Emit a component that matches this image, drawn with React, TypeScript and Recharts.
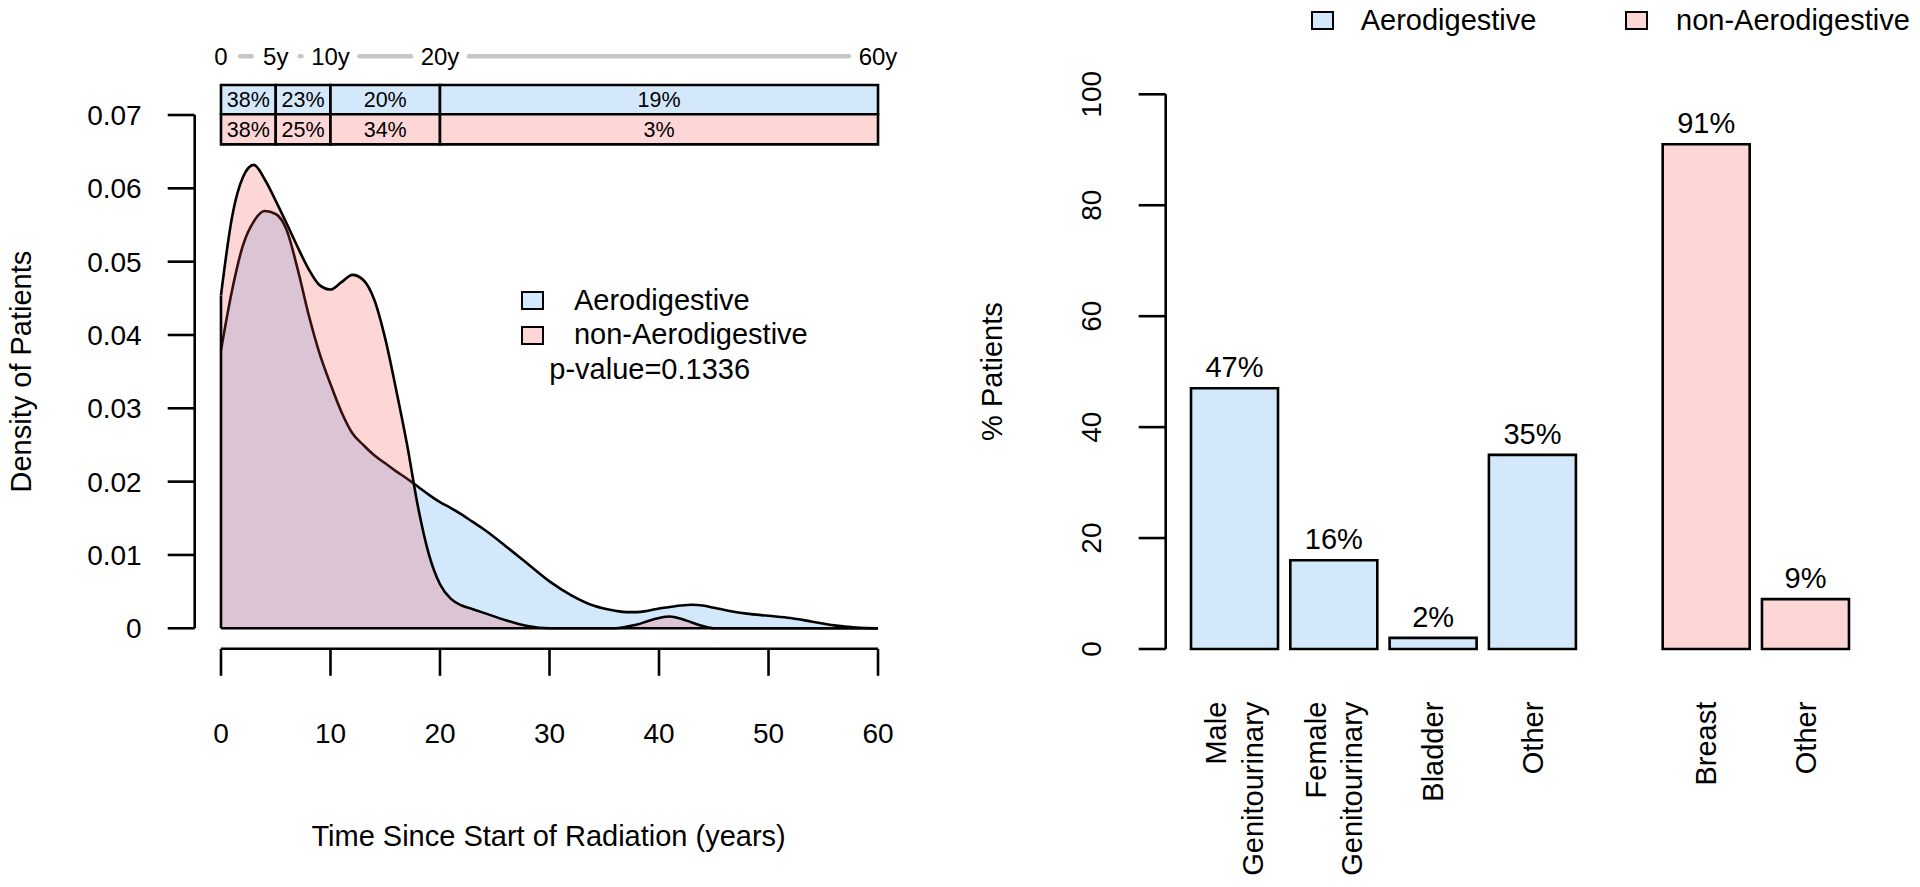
import React from "react";
import {
  Area,
  Bar,
  Cell,
  ComposedChart,
  LabelList,
  Legend,
  ReferenceArea,
  ReferenceLine,
  Scatter,
  XAxis,
  YAxis,
} from "recharts";

const FONT = '"Liberation Sans", Arial, Helvetica, sans-serif';
const BLUE = "#d4e8fc";
const PINK = "#fdd6d6";
const PINK_TINT = "#f64545"; // drawn at 22% over the blue density
const INK = "#000";
const LW = 2.6;

const groupNames = ["Aerodigestive", "non-Aerodigestive"];
const groupColors = [BLUE, PINK];

// left panel: density of time since start of radiation
const densityYears = [
  0, 1, 2, 3, 4, 5, 6, 7, 8, 9, 10, 11, 12, 13, 14, 15, 16, 17, 18, 19, 20, 21, 22, 23, 24,
  26, 28, 30, 32, 34, 36, 37, 38, 39, 40, 41, 42, 43, 44, 45, 46, 48, 50, 52, 54, 56, 58, 60,
];
const aeroDensity = [
  0.0379, 0.046, 0.0522, 0.0555, 0.0569, 0.0565, 0.0543, 0.049, 0.0428, 0.0375, 0.0333, 0.0295,
  0.0266, 0.025, 0.0236, 0.0225, 0.0214, 0.0204, 0.0193, 0.0182, 0.0172, 0.0164, 0.0155, 0.0145,
  0.0135, 0.0112, 0.0088, 0.0064, 0.0045, 0.0031, 0.0024, 0.0022, 0.0022, 0.0024, 0.0027, 0.0029,
  0.0031, 0.0032, 0.0031, 0.0028, 0.0025, 0.002, 0.0017, 0.0014, 0.0009, 0.0004, 0.0001, 0,
];
const nonAeroDensity = [
  0.0454, 0.056, 0.0615, 0.0632, 0.0612, 0.0583, 0.0552, 0.052, 0.049, 0.0468, 0.0462, 0.0472,
  0.0482, 0.0475, 0.0448, 0.0395, 0.0325, 0.025, 0.0165, 0.01, 0.006, 0.004, 0.0031, 0.0026,
  0.0021, 0.0011, 0.0003, 0, 0, 0, 0, 0.0002, 0.0005, 0.001, 0.0014, 0.0016, 0.0013, 0.0008,
  0.0003, 0, 0, 0, 0, 0, 0, 0, 0, 0,
];
const densityTicksX = [0, 10, 20, 30, 40, 50, 60];
const densityTicksY = [0, 0.01, 0.02, 0.03, 0.04, 0.05, 0.06, 0.07];

const periodEdges = [0, 5, 10, 20, 60];
const periodLabels = ["0", "5y", "10y", "20y", "60y"];
const aeroPeriodShare = ["38%", "23%", "20%", "19%"];
const nonAeroPeriodShare = ["38%", "25%", "34%", "3%"];
const pValue = "0.1336";

// right panel: site of second cancer
const aeroSites = ["Male\nGenitourinary", "Female\nGenitourinary", "Bladder", "Other"];
const aeroPercent = [47, 16, 2, 35];
const nonAeroSites = ["Breast", "Other"];
const nonAeroPercent = [91, 9];
const percentTicks = [0, 20, 40, 60, 80, 100];

// layout in data units
const X_PAD = 2.4;
const Y_PAD = 0.0028;
const Y_TOP = 0.08;
const TABLE_ROWS = [0.0741, 0.0701, 0.066];
const PERIOD_LABEL_Y = 0.078;
const GROUP_GAP = 0.75;

const densityRows = densityYears.map((x, i) => ({
  x,
  aero: aeroDensity[i],
  nonAero: nonAeroDensity[i],
}));
const periodMarks = periodEdges.map((x, i) => ({ x, y: PERIOD_LABEL_Y, label: periodLabels[i] }));
const labelPad = (s: string) => 1.3 + 0.45 * s.length;

const siteRows = [
  ...aeroSites.map((name, i) => ({ pos: i, name, pct: aeroPercent[i], group: 0 })),
  ...nonAeroSites.map((name, i) => ({
    pos: aeroSites.length + GROUP_GAP + i,
    name,
    pct: nonAeroPercent[i],
    group: 1,
  })),
];

const tickFont = { fill: INK, fontSize: 28, fontFamily: FONT };
const inkLine = { stroke: INK, strokeWidth: LW };

// axis title; "rot" rather than "angle" since Label passes its own angle
function Title({ tx, ty, rot = 0, text }: any) {
  return (
    <text
      x={tx}
      y={ty}
      transform={rot ? `rotate(${rot} ${tx} ${ty})` : undefined}
      textAnchor="middle"
      dominantBaseline="central"
      fontSize={29}
      fontFamily={FONT}
      fill={INK}
    >
      {text}
    </text>
  );
}

function PeriodLabel({ cx, cy, payload }: any) {
  return (
    <text x={cx} y={cy} textAnchor="middle" dominantBaseline="central" fontSize={24} fill={INK} fontFamily={FONT}>
      {payload.label}
    </text>
  );
}

function LegendBox({ left, top, color }: any) {
  return (
    <div
      style={{
        position: "absolute",
        left,
        top,
        width: 23,
        height: 19,
        background: color,
        border: `${LW}px solid ${INK}`,
        boxSizing: "border-box",
      }}
    />
  );
}

function LegendText({ left, top, children }: any) {
  return (
    <div
      style={{
        position: "absolute",
        left,
        top,
        fontSize: 29,
        lineHeight: "29px",
        whiteSpace: "nowrap",
        color: INK,
        fontFamily: FONT,
      }}
    >
      {children}
    </div>
  );
}

function DensityLegend() {
  return (
    <div style={{ position: "relative", width: 320, height: 120 }}>
      {groupNames.map((name, i) => (
        <React.Fragment key={name}>
          <LegendBox left={0} top={10.7 + i * 35.3} color={groupColors[i]} />
          <LegendText left={53.3} top={5.5 + i * 34.3}>
            {name}
          </LegendText>
        </React.Fragment>
      ))}
      <LegendText left={28.6} top={74.5}>{`p-value=${pValue}`}</LegendText>
    </div>
  );
}

function SiteLegend() {
  return (
    <div style={{ position: "relative", width: 620, height: 40 }}>
      {groupNames.map((name, i) => (
        <React.Fragment key={name}>
          <LegendBox left={10.7 + i * 314.3} top={10.7} color={groupColors[i]} />
          <LegendText left={60.7 + i * 315.3} top={5.5}>
            {name}
          </LegendText>
        </React.Fragment>
      ))}
    </div>
  );
}

function PercentTick({ x, y, payload }: any) {
  return (
    <text
      x={x}
      y={y}
      transform={`rotate(-90 ${x} ${y})`}
      textAnchor="middle"
      dominantBaseline="central"
      {...tickFont}
    >
      {payload.value}
    </text>
  );
}

function SiteTick({ x, y, payload }: any) {
  const row = siteRows.find((r) => r.pos === payload.value);
  if (!row) return null;
  const lines = row.name.split("\n");
  return (
    <g>
      {lines.map((line, i) => {
        const lx = x + (i - (lines.length - 1) / 2) * 36.7;
        return (
          <text
            key={line}
            x={lx}
            y={y}
            transform={`rotate(-90 ${lx} ${y})`}
            textAnchor="end"
            dominantBaseline="central"
            fontSize={29}
            fontFamily={FONT}
            fill={INK}
          >
            {line}
          </text>
        );
      })}
    </g>
  );
}

function DensityPanel() {
  const shareRows = [aeroPeriodShare, nonAeroPeriodShare];
  return (
    <ComposedChart
      width={960}
      height={887}
      data={densityRows}
      margin={{ top: 41.7, right: 55.7, bottom: 118.2, left: 44.7 }}
    >
      <XAxis
        type="number"
        dataKey="x"
        domain={[-X_PAD, 60 + X_PAD]}
        ticks={densityTicksX}
        interval={0}
        allowDataOverflow
        height={120}
        axisLine={false}
        tickLine={inkLine}
        tickSize={27}
        tickMargin={47.5}
        tick={tickFont}
        label={<Title tx={548.6} ty={836} text="Time Since Start of Radiation (years)" />}
      />
      <YAxis
        type="number"
        domain={[-Y_PAD, Y_TOP]}
        ticks={densityTicksY}
        interval={0}
        allowDataOverflow
        width={150}
        axisLine={false}
        tickLine={inkLine}
        tickSize={27}
        tickMargin={26}
        tick={tickFont}
        tickFormatter={(v: number) => (v === 0 ? "0" : v.toFixed(2))}
        label={<Title tx={20.8} ty={371.6} rot={-90} text="Density of Patients" />}
      />
      <Area
        type="monotone"
        dataKey="aero"
        name={groupNames[0]}
        fill={BLUE}
        fillOpacity={1}
        stroke={INK}
        strokeWidth={LW}
        dot={false}
        activeDot={false}
        isAnimationActive={false}
      />
      <Area
        type="monotone"
        dataKey="nonAero"
        name={groupNames[1]}
        fill={PINK_TINT}
        fillOpacity={0.22}
        stroke={INK}
        strokeWidth={LW}
        dot={false}
        activeDot={false}
        isAnimationActive={false}
      />
      <ReferenceLine segment={[{ x: 0, y: 0 }, { x: 60, y: 0 }]} {...inkLine} ifOverflow="visible" />
      <ReferenceLine
        segment={[{ x: 0, y: 0 }, { x: 0, y: nonAeroDensity[0] }]}
        {...inkLine}
        ifOverflow="visible"
      />
      <ReferenceLine segment={[{ x: -X_PAD, y: 0 }, { x: -X_PAD, y: 0.07 }]} {...inkLine} ifOverflow="visible" />
      <ReferenceLine segment={[{ x: 0, y: -Y_PAD }, { x: 60, y: -Y_PAD }]} {...inkLine} ifOverflow="visible" />
      {shareRows.map((row, r) =>
        row.map((share, i) => (
          <ReferenceArea
            key={`${r}-${i}`}
            x1={periodEdges[i]}
            x2={periodEdges[i + 1]}
            y1={TABLE_ROWS[r + 1]}
            y2={TABLE_ROWS[r]}
            fill={groupColors[r]}
            fillOpacity={1}
            stroke={INK}
            strokeWidth={LW}
            ifOverflow="visible"
            label={{ value: share, position: "center", fontSize: 21.5, fill: INK, fontFamily: FONT }}
          />
        ))
      )}
      {periodMarks.slice(0, -1).map((m, i) => (
        <ReferenceLine
          key={m.label}
          segment={[
            { x: m.x + labelPad(m.label), y: PERIOD_LABEL_Y },
            { x: periodMarks[i + 1].x - labelPad(periodMarks[i + 1].label), y: PERIOD_LABEL_Y },
          ]}
          stroke="#c6c6c6"
          strokeWidth={4.5}
          strokeLinecap="round"
          ifOverflow="visible"
        />
      ))}
      <Scatter data={periodMarks} dataKey="y" shape={<PeriodLabel />} isAnimationActive={false} />
      <Legend
        content={<DensityLegend />}
        layout="vertical"
        align="center"
        verticalAlign="middle"
        wrapperStyle={{ left: 520.7, top: 280, width: 320, height: 120 }}
      />
    </ComposedChart>
  );
}

function SitePanel() {
  return (
    <ComposedChart
      width={960}
      height={887}
      data={siteRows}
      margin={{ top: 94.3, right: 39.9, bottom: 88, left: 55.7 }}
    >
      <XAxis
        type="number"
        dataKey="pos"
        domain={[-0.6944, 6.5]}
        ticks={siteRows.map((r) => r.pos)}
        interval={0}
        allowDataOverflow
        height={150}
        axisLine={false}
        tickLine={false}
        tickSize={0}
        tickMargin={52.7}
        tick={<SiteTick />}
      />
      <YAxis
        type="number"
        domain={[0, 100]}
        ticks={percentTicks}
        interval={0}
        width={150}
        axisLine={inkLine}
        tickLine={inkLine}
        tickSize={27}
        tickMargin={47}
        tick={<PercentTick />}
        label={<Title tx={32} ty={371.6} rot={-90} text="% Patients" />}
      />
      <Bar dataKey="pct" barSize={87} stroke={INK} strokeWidth={LW} isAnimationActive={false}>
        {siteRows.map((r) => (
          <Cell key={r.pos} fill={groupColors[r.group]} />
        ))}
        <LabelList
          dataKey="pct"
          position="top"
          offset={11}
          formatter={(v: any) => `${v}%`}
          fontSize={29}
          fill={INK}
          fontFamily={FONT}
        />
      </Bar>
      <Legend
        content={<SiteLegend />}
        layout="vertical"
        align="center"
        verticalAlign="middle"
        wrapperStyle={{ left: 340, top: 0, width: 620, height: 40 }}
      />
    </ComposedChart>
  );
}

export default function App() {
  return (
    <div
      style={{
        position: "absolute",
        left: 0,
        top: 0,
        width: 1920,
        height: 887,
        background: "#fff",
        fontFamily: FONT,
        overflow: "hidden",
      }}
    >
      <div style={{ position: "absolute", left: 0, top: 0 }}>
        <DensityPanel />
      </div>
      <div style={{ position: "absolute", left: 960, top: 0 }}>
        <SitePanel />
      </div>
    </div>
  );
}
